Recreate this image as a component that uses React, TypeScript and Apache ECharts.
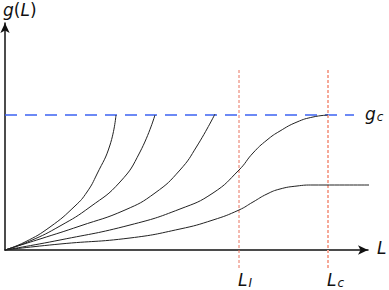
import React, { useEffect, useRef } from "react";
import * as echarts from "echarts";

// Curves in chart units (x = L, y = g)
const curve1: [number, number][] = [[0, 0], [20, 8], [45, 23], [70, 44], [82, 58], [92, 76], [105, 105], [111, 135]];
const curve2: [number, number][] = [[0, 0], [25, 9], [55, 24], [85, 43], [115, 68], [135, 98], [150, 135]];
const curve3: [number, number][] = [[0, 0], [35, 11], [75, 24], [120, 40], [150, 57], [175, 80], [192, 104], [210, 136]];
const curve4: [number, number][] = [[0, 0], [55, 10], [125, 25], [175, 41], [208, 57], [234, 80], [248, 97], [262, 110], [275, 119], [292, 128], [308, 133], [323, 135]];
const curve5: [number, number][] = [[0, 0], [55, 6], [125, 12], [175, 21], [208, 30], [234, 40], [248, 48], [262, 56], [275, 61], [292, 64], [308, 65], [367, 65]];
const gc = 135;
const LI = 234;
const Lc = 323;

export default function App() {
  const ref = useRef<HTMLDivElement>(null);
  useEffect(() => {
    const chart = echarts.init(ref.current!, null, { renderer: "svg" });
    const curveStyle = { color: "#222", width: 1 };
    const mk = (d: [number, number][]) => ({
      type: "line",
      data: d,
      smooth: 0.5,
      showSymbol: false,
      symbol: "none",
      clip: false,
      lineStyle: curveStyle,
      silent: true,
    });
    const f = "'DejaVu Sans', sans-serif";
    const it = { fontFamily: f, fontSize: 17, fontStyle: "italic", fill: "#111", lineHeight: 20 };
    const sub = { fontFamily: f, fontSize: 12, fontStyle: "italic", fill: "#111", lineHeight: 20, padding: [7, 0, 0, 1] };
    chart.setOption({
      animation: false,
      grid: { left: 5, top: 23, width: 363, height: 227 },
      xAxis: {
        type: "value",
        min: 0,
        max: 363,
        axisLine: { show: true, symbol: ["none", "arrow"], symbolSize: [7, 10], lineStyle: { color: "#111", width: 1.5 } },
        axisTick: { show: false },
        axisLabel: { show: false },
        splitLine: { show: false },
      },
      yAxis: {
        type: "value",
        min: 0,
        max: 227,
        axisLine: { show: true, symbol: ["none", "arrow"], symbolSize: [7, 10], lineStyle: { color: "#111", width: 1.5 } },
        axisTick: { show: false },
        axisLabel: { show: false },
        splitLine: { show: false },
      },
      series: [
        {
          type: "line",
          data: [[0, gc], [349, gc]],
          symbol: "none",
          clip: false,
          lineStyle: { color: "#3d63f2", width: 1.5, type: [12, 8] },
        },
        {
          type: "line",
          data: [[LI, -18], [LI, 180]],
          symbol: "none",
          clip: false,
          lineStyle: { color: "#e8735f", width: 1, type: [3, 2] },
        },
        {
          type: "line",
          data: [[Lc, -18], [Lc, 182]],
          symbol: "none",
          clip: false,
          lineStyle: { color: "#f6a897", width: 2, type: [3, 2] },
        },
        mk(curve1),
        mk(curve2),
        mk(curve3),
        mk(curve4),
        mk(curve5),
      ],
      graphic: [
        {
          type: "text",
          left: 3,
          top: 1,
          style: {
            text: "{i|g}{n|(}{i|L}{n|)}",
            rich: {
              i: it,
              n: { fontFamily: f, fontSize: 17, fill: "#111", lineHeight: 20 },
            },
          },
        },
        { type: "text", left: 377, top: 238, style: { text: "L", ...it } },
        { type: "text", left: 365, top: 104, style: { text: "{i|g}{s|c}", rich: { i: it, s: sub } } },
        { type: "text", left: 238, top: 270, style: { text: "{i|L}{s|I}", rich: { i: it, s: sub } } },
        { type: "text", left: 327, top: 270, style: { text: "{i|L}{s|c}", rich: { i: it, s: sub } } },
      ],
    });
    return () => chart.dispose();
  }, []);
  return <div ref={ref} style={{ position: "fixed", left: 0, top: 0, width: 389, height: 290, background: "#fff" }} />;
}
